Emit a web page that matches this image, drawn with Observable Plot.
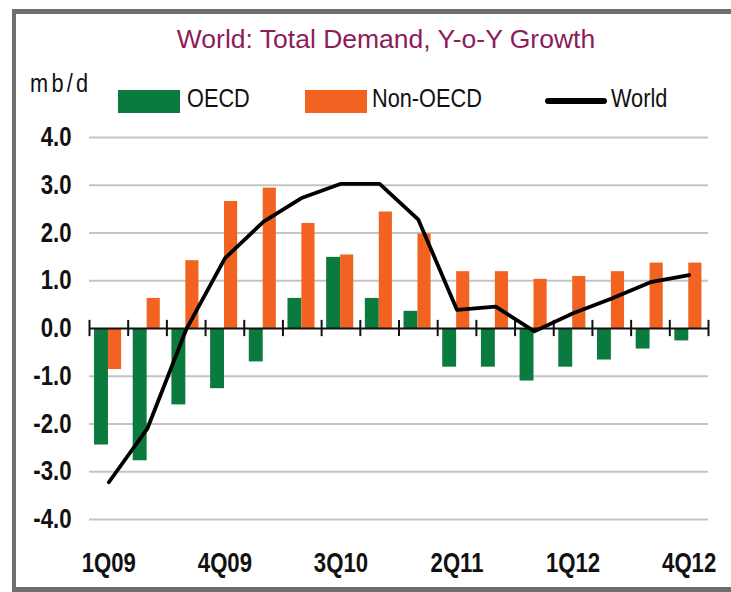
<!DOCTYPE html>
<html>
<head>
<meta charset="utf-8">
<script src="https://cdn.jsdelivr.net/npm/d3@7"></script>
<script src="https://cdn.jsdelivr.net/npm/@observablehq/plot@0.6"></script>
<style>
  html, body { margin: 0; padding: 0; background: #fff; overflow: hidden; }
  #wrap { width: 731px; height: 592px; overflow: hidden; position: relative;
          font-family: "Liberation Sans", Arial, sans-serif; }
  #frame { position: absolute; left: 12px; top: 9px; width: 719px; height: 583px;
           box-sizing: border-box; border-left: 4px solid #6f6f6f; border-top: 5px solid #6f6f6f;
           border-bottom: 5px solid #6f6f6f; border-right: 0 none; }
  #title { position: absolute; left: 0; width: 772px; top: 24px; text-align: center;
           font-size: 26.5px; color: #8c1d5c; line-height: 30px; white-space: nowrap; }
  .txt { position: absolute; font-size: 26.5px; color: #111; line-height: 30px; white-space: nowrap;
         transform: scaleX(0.82); transform-origin: left top; }
  .sw { position: absolute; width: 62px; height: 23px; top: 90px; }
  .ln { position: absolute; width: 62px; height: 6px; top: 98px; border-radius: 3px; background: #000; }
  #chart { position: absolute; left: 0; top: 118px; }
</style>
</head>
<body>
<div id="wrap">
<div id="frame"></div>
<div id="title"></div>
<div id="head"></div>
<div id="chart"></div>
</div>
<script>
// ---- data ----
const quarters = ["1Q09","2Q09","3Q09","4Q09","1Q10","2Q10","3Q10","4Q10",
                  "1Q11","2Q11","3Q11","4Q11","1Q12","2Q12","3Q12","4Q12"];
const oecd    = [-2.44,-2.77,-1.60,-1.26,-0.70, 0.63, 1.49, 0.63,
                  0.36,-0.81,-0.81,-1.10,-0.81,-0.66,-0.43,-0.26];
const nonOecd = [-0.86, 0.63, 1.42, 2.66, 2.94, 2.20, 1.54, 2.44,
                  1.98, 1.19, 1.19, 1.03, 1.09, 1.19, 1.37, 1.37];
const world   = [-3.22,-2.09,-0.02, 1.47, 2.24, 2.74, 3.03, 3.03,
                  2.28, 0.39, 0.46,-0.06, 0.32, 0.63, 0.97, 1.12];
const yTicks = [-4, -3, -2, -1, 0, 1, 2, 3, 4];
const xTickLabels = ["1Q09","4Q09","3Q10","2Q11","1Q12","4Q12"];
const seriesNames = ["OECD", "Non-OECD", "World"];
const colors = {OECD: "#0b7a3e", "Non-OECD": "#f26322", World: "#000000"};
const titleText = "World:  Total Demand, Y-o-Y Growth";
const unitText = "mb/d";

// ---- header ----
document.getElementById("title").textContent = titleText;
const head = document.getElementById("head");
function addText(str, left, top, extra) {
  const s = document.createElement("div");
  s.className = "txt";
  s.textContent = str;
  s.style.left = left + "px";
  s.style.top = top + "px";
  if (extra) Object.assign(s.style, extra);
  head.appendChild(s);
}
addText(unitText, 30, 68, {letterSpacing: "4px"});
const swatchLeft = [118, 305, 545];
const textLeft = [187, 372, 611];
seriesNames.forEach((name, k) => {
  const sw = document.createElement("div");
  sw.className = name === "World" ? "ln" : "sw";
  if (name !== "World") sw.style.background = colors[name];
  sw.style.left = swatchLeft[k] + "px";
  head.appendChild(sw);
  addText(name, textLeft[k], 83);
});

// ---- chart ----
const data = quarters.map((q, i) => ({i, q, oecd: oecd[i], non: nonOecd[i], world: world[i]}));
const boundaries = d3.range(quarters.length + 1);

const chart = Plot.plot({
  width: 731,
  height: 474,
  marginLeft: 89,
  marginRight: 23,
  marginTop: 19,
  marginBottom: 73,
  style: {fontFamily: '"Liberation Sans", Arial, sans-serif', fontSize: "27px", fontWeight: "bold", color: "#111", background: "transparent"},
  x: {type: "linear", domain: [0, quarters.length]},
  y: {domain: [-4, 4]},
  marks: [
    Plot.ruleY(yTicks.filter(d => d !== 0), {stroke: "#c4c4c4", strokeWidth: 2}),
    Plot.rectY(data, {x1: d => d.i + 0.13, x2: d => d.i + 0.49, y1: 0, y2: "oecd", fill: colors.OECD}),
    Plot.rectY(data, {x1: d => d.i + 0.49, x2: d => d.i + 0.83, y1: 0, y2: "non", fill: colors["Non-OECD"]}),
    Plot.ruleY([0], {stroke: "#111", strokeWidth: 2}),
    Plot.ruleX(boundaries, {y1: -0.17, y2: 0.17, stroke: "#111", strokeWidth: 2}),
    Plot.line(data, {x: d => d.i + 0.5, y: "world", stroke: colors.World, strokeWidth: 3.8, strokeLinejoin: "round"}),
    Plot.axisY({ticks: yTicks, tickSize: 0, tickPadding: 18, tickFormat: d => d.toFixed(1), label: null}),
    Plot.axisX({ticks: xTickLabels.map(q => quarters.indexOf(q) + 0.5),
                tickFormat: d => quarters[Math.floor(d)], tickSize: 0, tickPadding: 33, label: null})
  ]
});
document.getElementById("chart").appendChild(chart);
// narrow the tick labels horizontally (Arial Narrow look)
chart.querySelectorAll("text").forEach(t => {
  const w = t.getComputedTextLength();
  t.setAttribute("textLength", (w * 0.82).toFixed(1));
  t.setAttribute("lengthAdjust", "spacingAndGlyphs");
});
</script>
</body>
</html>
